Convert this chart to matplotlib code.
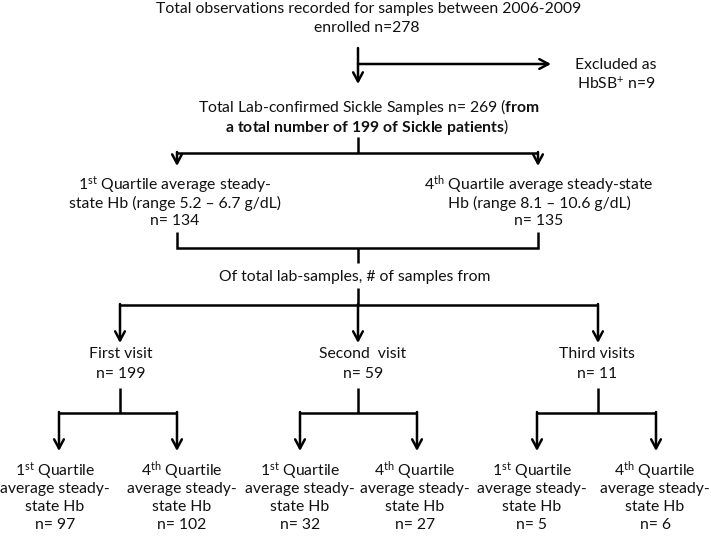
import matplotlib.pyplot as plt

plt.rcParams['font.family'] = ['Lato', 'DejaVu Sans']
plt.rcParams['mathtext.fontset'] = 'custom'
plt.rcParams['mathtext.rm'] = 'Lato'
plt.rcParams['mathtext.bf'] = 'Lato:bold'
plt.rcParams['mathtext.it'] = 'Lato:italic'

# flowchart numbers
enrolled_n = 278
excluded_n = 9
confirmed_n = 269
patients_n = 199
years = '2006-2009'
quartile_names = ['1$^{\\mathrm{st}}$', '4$^{\\mathrm{th}}$']
quartile_ranges = ['5.2 \u2013 6.7', '8.1 \u2013 10.6']
quartile_n = [134, 135]
visit_labels = ['First visit', 'Second  visit', 'Third visits']
visit_n = [199, 59, 11]
sub_n = [97, 102, 32, 27, 5, 6]

FS = 11.3
LW = 1.8
ARROW = '->,head_length=0.65,head_width=0.35'

fig = plt.figure(figsize=(7.11, 5.39), dpi=100)
ax = fig.add_axes([0, 0, 1, 1])
ax.set_xlim(0, 711)
ax.set_ylim(539, 0)
ax.axis('off')


def line(xs, ys):
    ax.plot(xs, ys, color='black', lw=LW, solid_capstyle='butt',
            solid_joinstyle='miter')


def arrow(x0, y0, x1, y1):
    ax.annotate('', xy=(x1, y1), xytext=(x0, y0),
                arrowprops=dict(arrowstyle=ARROW, lw=LW, color='black',
                                shrinkA=0, shrinkB=0))


def text(x, y, s, **kw):
    ax.text(x, y, s, ha='center', va='center', fontsize=FS,
            color='#111111', **kw)


# top box
text(369, 9, 'Total observations recorded for samples between ' + years)
text(367, 28, 'enrolled n=%d' % enrolled_n)
arrow(358, 48, 358, 84)
arrow(358, 64, 551, 64)
text(616, 65, 'Excluded as')
text(616, 84, 'HbSB$^{+}$ n=%d' % excluded_n)

# lab-confirmed
text(369, 107, 'Total Lab-confirmed Sickle Samples n= %d ($\\mathbf{from}$'
     % confirmed_n)
text(367, 127, '$\\mathbf{a\\ total\\ number\\ of\\ %d\\ of\\ Sickle\\ patients}$)'
     % patients_n)

# split into quartiles
q_x = [177, 538]
line([358, 358], [137, 153])
line([q_x[0], q_x[1]], [153, 153])
for x in q_x:
    arrow(x, 152, x, 166)

q_lines = [
    ['%s Quartile average steady-' % quartile_names[0],
     'state Hb (range %s g/dL)' % quartile_ranges[0],
     'n= %d' % quartile_n[0]],
    ['%s Quartile average steady-state' % quartile_names[1],
     'Hb (range %s g/dL)' % quartile_ranges[1],
     'n= %d' % quartile_n[1]],
]
q_text_x = [175, 539]
for i in range(2):
    for j, s in enumerate(q_lines[i]):
        text(q_text_x[i], 185 + 18 * j, s)

# bracket joining quartiles
line([q_x[0], q_x[0], q_x[1], q_x[1]], [232, 248, 248, 232])
line([358, 358], [248, 263])
text(355, 277, 'Of total lab-samples, # of samples from')

# visits
v_x = [120, 358, 598]
line([358, 358], [288, 306])
line([v_x[0], v_x[2]], [305, 305])
for x in v_x:
    arrow(x, 304, x, 343)

v_text_x = [121, 363, 597]
for i in range(3):
    text(v_text_x[i], 354, visit_labels[i])
    text(v_text_x[i], 374, 'n= %d' % visit_n[i])

# split each visit into quartiles
sub_arrow_x = [(59, 177), (300, 417), (537, 656)]
sub_text_x = [55, 182, 300, 415, 532, 655]
for i in range(3):
    xl, xr = sub_arrow_x[i]
    line([v_x[i], v_x[i]], [388, 413])
    line([xl, xr], [413, 413])
    for x in (xl, xr):
        arrow(x, 412, x, 451)
    for k in range(2):
        idx = 2 * i + k
        lines = ['%s Quartile' % quartile_names[k], 'average steady-',
                 'state Hb', 'n= %d' % sub_n[idx]]
        for j, s in enumerate(lines):
            text(sub_text_x[idx], 471 + 18 * j, s)

fig.savefig('out.png', dpi=100)
